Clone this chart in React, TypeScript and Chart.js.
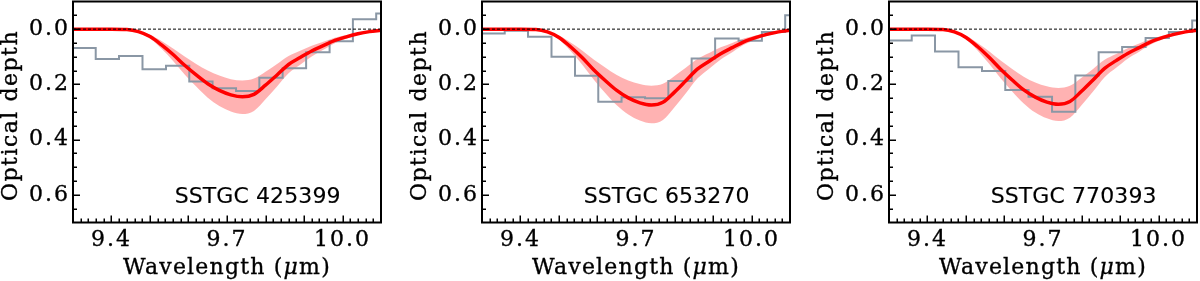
import React, { useEffect, useRef } from 'react';
import { Chart, registerables } from 'chart.js';

Chart.register(...registerables);

const SERIF = '"DejaVu Serif", serif';
const SANS = '"DejaVu Sans", sans-serif';

// ---------- data ----------
const galaxyNames = ['SSTGC 425399', 'SSTGC 653270', 'SSTGC 770393'];

// observed spectrum bin centres (micron)
const binWavelengths = [9.268, 9.329, 9.389, 9.450, 9.511, 9.572, 9.632, 9.693, 9.754, 9.814, 9.875, 9.936, 9.997, 10.057, 10.118];
const observed425399 = [0.068, 0.068, 0.108, 0.097, 0.145, 0.133, 0.190, 0.214, 0.224, 0.176, 0.142, 0.084, 0.044, -0.036, -0.057];
const observed653270 = [0.016, 0.016, 0.006, 0.028, 0.100, 0.169, 0.263, 0.247, 0.250, 0.188, 0.106, 0.034, 0.042, 0.010, -0.050];
const observed770393 = [0.041, 0.041, 0.023, 0.081, 0.138, 0.152, 0.220, 0.245, 0.299, 0.168, 0.084, 0.065, 0.032, 0.010, -0.031];

// fitted profile sample wavelengths (micron)
const fitWavelengths = [9.30, 9.40, 9.44, 9.47, 9.50, 9.53, 9.56, 9.59, 9.62, 9.65, 9.68, 9.71, 9.74, 9.77, 9.80, 9.83, 9.86, 9.89, 9.92, 9.95, 9.98, 10.01, 10.04, 10.07, 10.10];
const fit425399 = [0, 0, 0.001, 0.009, 0.027, 0.057, 0.092, 0.131, 0.166, 0.198, 0.222, 0.238, 0.245, 0.236, 0.203, 0.166, 0.128, 0.103, 0.079, 0.060, 0.041, 0.028, 0.017, 0.009, 0.004];
const fitLow425399 = [0, 0, 0.001, 0.007, 0.020, 0.043, 0.070, 0.099, 0.126, 0.150, 0.168, 0.181, 0.186, 0.179, 0.154, 0.126, 0.097, 0.078, 0.060, 0.046, 0.031, 0.021, 0.013, 0.007, 0.003];
const fitHigh425399 = [0, 0, 0.001, 0.011, 0.034, 0.071, 0.115, 0.164, 0.208, 0.248, 0.278, 0.298, 0.307, 0.296, 0.254, 0.208, 0.160, 0.129, 0.099, 0.075, 0.051, 0.035, 0.021, 0.011, 0.005];
const fit653270 = [0, 0, 0.001, 0.010, 0.030, 0.064, 0.103, 0.147, 0.186, 0.222, 0.249, 0.267, 0.275, 0.265, 0.228, 0.186, 0.144, 0.116, 0.089, 0.067, 0.046, 0.031, 0.019, 0.010, 0.004];
const fitLow653270 = [0, 0, 0.001, 0.008, 0.023, 0.048, 0.077, 0.110, 0.139, 0.166, 0.186, 0.199, 0.205, 0.198, 0.170, 0.139, 0.107, 0.086, 0.066, 0.050, 0.034, 0.023, 0.014, 0.008, 0.003];
const fitHigh653270 = [0, 0, 0.001, 0.013, 0.038, 0.079, 0.128, 0.182, 0.231, 0.276, 0.309, 0.331, 0.341, 0.329, 0.283, 0.231, 0.178, 0.143, 0.110, 0.084, 0.057, 0.039, 0.024, 0.013, 0.006];
const fit770393 = [0, 0, 0.001, 0.010, 0.030, 0.063, 0.102, 0.145, 0.184, 0.220, 0.246, 0.264, 0.272, 0.262, 0.225, 0.184, 0.142, 0.114, 0.088, 0.067, 0.046, 0.031, 0.019, 0.010, 0.004];
const fitLow770393 = [0, 0, 0.001, 0.008, 0.023, 0.050, 0.080, 0.114, 0.144, 0.172, 0.193, 0.207, 0.213, 0.205, 0.176, 0.144, 0.111, 0.090, 0.069, 0.052, 0.036, 0.024, 0.015, 0.008, 0.003];
const fitHigh770393 = [0, 0, 0.001, 0.012, 0.037, 0.077, 0.125, 0.178, 0.226, 0.269, 0.302, 0.323, 0.333, 0.321, 0.276, 0.226, 0.174, 0.140, 0.107, 0.082, 0.056, 0.038, 0.023, 0.012, 0.005];

const xTickLabels = [9.4, 9.7, 10.0];
const yTickLabels = [0.0, 0.2, 0.4, 0.6];

const observedSeries = [observed425399, observed653270, observed770393];
const fitSeries = [fit425399, fit653270, fit770393];
const fitLowSeries = [fitLow425399, fitLow653270, fitLow770393];
const fitHighSeries = [fitHigh425399, fitHigh653270, fitHigh770393];

// ---------- layout ----------
const X_MIN = 9.3;
const X_MAX = 10.1;
const Y_MIN = -0.1;
const Y_MAX = 0.7;
const PANEL_LEFTS = [0, 409, 816];
const CANVAS_W = 384;
const CANVAS_H = 281;
const LABEL_POS = { x: 9.564, y: 0.63 };

const toXY = (xs: number[], ys: number[]) => xs.map((x, i) => ({ x, y: ys[i] }));

const textSpacingPlugin = {
  id: 'textSpacing',
  beforeDraw(chart: any) {
    chart.ctx.letterSpacing = '2px';
  },
};

function drawHeavyText(ctx: any, text: string, x: number, y: number, stroke: number) {
  ctx.fillText(text, x, y);
  if (stroke > 0) {
    ctx.lineWidth = stroke;
    ctx.strokeText(text, x, y);
  }
}

function makeDecorPlugin(name: string) {
  return {
    id: 'decor',
    afterDraw(chart: any) {
      const { ctx, chartArea } = chart;
      const xs = chart.scales.x;
      const ys = chart.scales.y;
      const { left, right, top, bottom } = chartArea;
      ctx.save();
      // inward ticks
      ctx.strokeStyle = '#000';
      ctx.lineWidth = 1.5;
      ctx.beginPath();
      for (let i = 932; i < 1010; i += 2) {
        const major = i % 10 === 0;
        const len = major ? 7 : 4;
        const px = Math.round(xs.getPixelForValue(i / 100)) + 0.25;
        ctx.moveTo(px, bottom);
        ctx.lineTo(px, bottom - len);
      }
      for (let j = -5; j < 70; j += 5) {
        const major = j % 20 === 0;
        const len = major ? 7 : 4;
        const py = Math.round(ys.getPixelForValue(j / 100)) + 0.25;
        ctx.moveTo(left, py);
        ctx.lineTo(left + len, py);
      }
      ctx.stroke();
      // frame
      ctx.lineWidth = 2;
      ctx.strokeRect(left, top, right - left, bottom - top);

      ctx.fillStyle = '#000';
      // annotation
      ctx.letterSpacing = '0.1px';
      ctx.font = `22px ${SANS}`;
      ctx.textAlign = 'left';
      ctx.textBaseline = 'alphabetic';
      drawHeavyText(ctx, name, xs.getPixelForValue(LABEL_POS.x), ys.getPixelForValue(LABEL_POS.y), 0.15);

      // x title with italic mu
      ctx.letterSpacing = '1.2px';
      const parts = [
        { t: 'Wavelength (', f: `22px ${SERIF}` },
        { t: '\u03bc', f: `italic 22px ${SERIF}` },
        { t: 'm)', f: `22px ${SERIF}` },
      ];
      let total = 0;
      const widths = parts.map((p) => {
        ctx.font = p.f;
        const w = ctx.measureText(p.t).width;
        total += w;
        return w;
      });
      let cx = (left + right) / 2 - total / 2;
      parts.forEach((p, k) => {
        ctx.font = p.f;
        drawHeavyText(ctx, p.t, cx, 274, 0.35);
        cx += widths[k];
      });

      // y title
      ctx.letterSpacing = '1.5px';
      ctx.translate(left - 61.5, (top + bottom) / 2 + 3.5);
      ctx.rotate(-Math.PI / 2);
      ctx.font = `22px ${SERIF}`;
      ctx.textAlign = 'center';
      ctx.textBaseline = 'middle';
      drawHeavyText(ctx, 'Optical depth', 0, 0, 0.35);
      ctx.restore();
    },
  };
}

function Panel({ index }: { index: number }) {
  const ref = useRef<HTMLCanvasElement | null>(null);

  useEffect(() => {
    const canvas = ref.current;
    if (!canvas) return;
    const tickFont = { family: SERIF, size: 22 };
    const chart = new Chart(canvas, {
      type: 'line',
      data: {
        datasets: [
          {
            label: 'zero',
            data: toXY([X_MIN, X_MAX], [0, 0]),
            borderColor: '#000',
            borderWidth: 1,
            borderDash: [3, 2],
            pointRadius: 0,
            clip: 0,
          },
          {
            label: 'fit',
            data: toXY(fitWavelengths, fitSeries[index]),
            borderColor: '#ff0000',
            borderWidth: 3.5,
            pointRadius: 0,
            cubicInterpolationMode: 'monotone',
            clip: 0,
          },
          {
            label: 'observed',
            data: toXY(binWavelengths, observedSeries[index]),
            borderColor: '#8a97a5',
            borderWidth: 2,
            pointRadius: 0,
            stepped: 'middle',
            clip: 0,
          },
          {
            label: 'fit high',
            data: toXY(fitWavelengths, fitHighSeries[index]),
            borderColor: 'rgba(0,0,0,0)',
            borderWidth: 0,
            pointRadius: 0,
            cubicInterpolationMode: 'monotone',
            backgroundColor: 'rgba(255,0,0,0.3)',
            fill: '+1',
            clip: 0,
          },
          {
            label: 'fit low',
            data: toXY(fitWavelengths, fitLowSeries[index]),
            borderColor: 'rgba(0,0,0,0)',
            borderWidth: 0,
            pointRadius: 0,
            cubicInterpolationMode: 'monotone',
            fill: false,
            clip: 0,
          },
        ],
      } as any,
      options: {
        animation: false,
        responsive: false,
        devicePixelRatio: 1,
        events: [],
        layout: { autoPadding: false, padding: { left: 0, right: 3, top: 1.5, bottom: 0 } },
        plugins: { legend: { display: false }, tooltip: { enabled: false } },
        scales: {
          x: {
            type: 'linear',
            min: X_MIN,
            max: X_MAX,
            grid: { display: false, drawTicks: false, tickLength: 0 },
            border: { display: false },
            afterBuildTicks: (s: any) => {
              s.ticks = xTickLabels.map((v) => ({ value: v }));
            },
            afterFit: (s: any) => {
              s.height = 58.5;
              s.paddingLeft = 0;
              s.paddingRight = 0;
            },
            ticks: {
              font: tickFont,
              color: '#000',
              textStrokeColor: '#000',
              textStrokeWidth: 0.35,
              padding: 5,
              maxRotation: 0,
              autoSkip: false,
              callback: (v: any) => Number(v).toFixed(1),
            },
          },
          y: {
            type: 'linear',
            reverse: true,
            min: Y_MIN,
            max: Y_MAX,
            grid: { display: false, drawTicks: false, tickLength: 0 },
            border: { display: false },
            afterBuildTicks: (s: any) => {
              s.ticks = yTickLabels.map((v) => ({ value: v }));
            },
            afterFit: (s: any) => {
              s.width = 73;
              s.paddingTop = 0;
              s.paddingBottom = 0;
            },
            ticks: {
              font: tickFont,
              color: '#000',
              textStrokeColor: '#000',
              textStrokeWidth: 0.35,
              padding: 3,
              autoSkip: false,
              callback: (v: any) => Number(v).toFixed(1),
            },
          },
        },
      } as any,
      plugins: [textSpacingPlugin, makeDecorPlugin(galaxyNames[index])],
    });
    return () => chart.destroy();
  }, [index]);

  return (
    <canvas
      ref={ref}
      width={CANVAS_W}
      height={CANVAS_H}
      style={{ position: 'absolute', left: PANEL_LEFTS[index], top: 0, width: CANVAS_W, height: CANVAS_H }}
    />
  );
}

export default function App() {
  return (
    <div style={{ position: 'fixed', left: 0, top: 0, width: 1200, height: 281, background: '#fff', overflow: 'hidden' }}>
      {[0, 1, 2].map((i) => (
        <Panel key={i} index={i} />
      ))}
    </div>
  );
}
